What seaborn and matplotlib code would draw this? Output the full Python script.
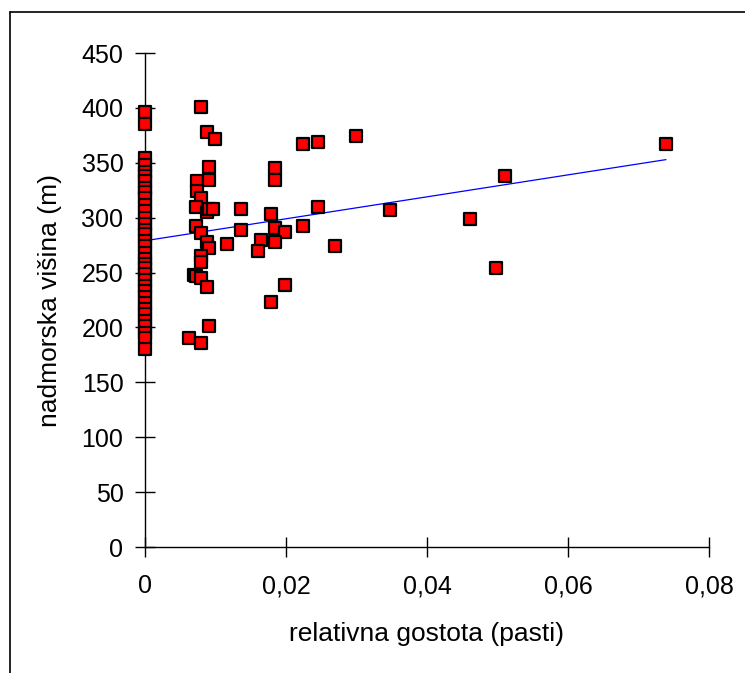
import matplotlib
matplotlib.use("Agg")
import matplotlib.pyplot as plt
from matplotlib.lines import Line2D
from matplotlib.ticker import FuncFormatter
import seaborn as sns
import numpy as np
import pandas as pd

# points sitting on x = 0
zero_y = [396, 385, 354, 348, 342, 338, 333, 327, 323, 318, 312, 306, 300, 294,
          289, 285, 279, 274, 268, 262, 258, 254, 249, 243, 238, 233, 228, 222,
          217, 212, 206, 201, 195, 190, 180]

# points with density > 0
dens_x = [0.0079, 0.0088, 0.0099, 0.0224, 0.0246, 0.0300, 0.0091, 0.0184, 0.0184,
          0.0074, 0.0091, 0.0074, 0.0079, 0.0073, 0.0088, 0.0091, 0.0097, 0.0136,
          0.0179, 0.0246, 0.0348, 0.0073, 0.0079, 0.0136, 0.0184, 0.0199, 0.0224,
          0.0088, 0.0091, 0.0116, 0.0164, 0.0161, 0.0184, 0.0269, 0.0079, 0.0079,
          0.0069, 0.0072, 0.0079, 0.0088, 0.0199, 0.0179, 0.0091, 0.0062, 0.0079,
          0.0510, 0.0461, 0.0498, 0.0739]
dens_y = [401, 378, 372, 367, 369, 374, 346, 345, 334,
          333, 334, 324, 318, 310, 305, 308, 308, 308,
          303, 310, 307, 292, 286, 289, 291, 287, 292,
          278, 272, 276, 280, 270, 278, 274, 265, 260,
          248, 247, 245, 237, 239, 223, 201, 190, 186,
          338, 299, 254, 367]

# linear trend line
trend_x = [0.0, 0.0739]
trend_intercept = 279.0
trend_slope = 1000.0

df = pd.DataFrame({
    "x": [0.0] * len(zero_y) + dens_x,
    "y": zero_y + dens_y,
})
trend = pd.DataFrame({"x": trend_x})
trend["y"] = trend_intercept + trend_slope * trend["x"]

sns.set_style("white")
plt.rcParams["font.family"] = ["Liberation Sans", "DejaVu Sans"]

fig = plt.figure(figsize=(7.45, 6.73), dpi=100)
ax = fig.add_axes([0.1946, 0.1872, 0.757, 0.734])

sns.lineplot(data=trend, x="x", y="y", color="#0000ff", linewidth=0.9, ax=ax)
sns.scatterplot(data=df, x="x", y="y", marker="s", s=80, color="#ff0000",
                edgecolor="black", linewidth=1.6, ax=ax, zorder=3, clip_on=False)

ax.set_xlim(0, 0.08)
ax.set_ylim(0, 450)
ax.set_xticks([0, 0.02, 0.04, 0.06, 0.08])
ax.set_yticks(range(0, 451, 50))
ax.xaxis.set_major_formatter(FuncFormatter(
    lambda v, p: "0" if v == 0 else f"{v:.2f}".replace(".", ",")))

for side in ["top", "right"]:
    ax.spines[side].set_visible(False)
for side in ["left", "bottom"]:
    ax.spines[side].set_color("black")
    ax.spines[side].set_linewidth(1.0)

ax.tick_params(axis="both", direction="inout", length=15, width=1.0,
               colors="black", labelsize=18, bottom=True, left=True)
ax.tick_params(axis="y", pad=8)
ax.tick_params(axis="x", pad=12)

ax.set_xlabel("relativna gostota (pasti)", fontsize=19, labelpad=17, color="black")
ax.set_ylabel("nadmorska višina (m)", fontsize=19, labelpad=14, color="black")

# frame around the chart (left and top edges only)
fig.add_artist(Line2D([0.0134, 0.0134], [0.0, 0.982], color="black",
                      linewidth=1.2, transform=fig.transFigure))
fig.add_artist(Line2D([0.0134, 1.0], [0.982, 0.982], color="black",
                      linewidth=1.2, transform=fig.transFigure))

fig.savefig("out.png", dpi=100)
